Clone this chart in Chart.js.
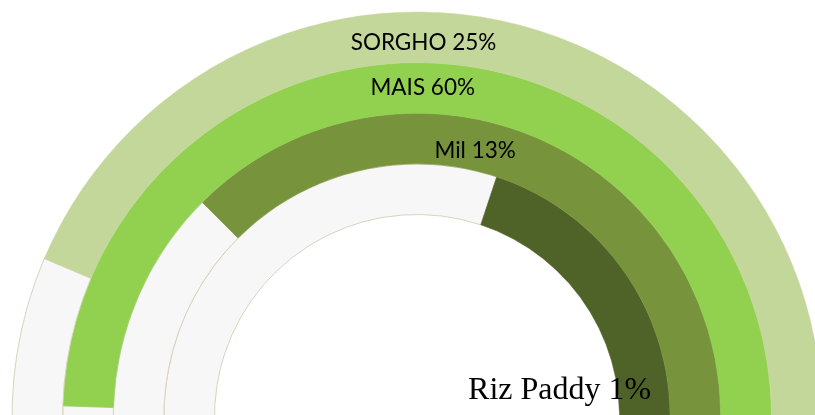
<!DOCTYPE html>
<html>
<head>
<meta charset="utf-8">
<script src="https://cdn.jsdelivr.net/npm/chart.js@4"></script>
<style>
  html, body { margin: 0; padding: 0; background: #fff; overflow: hidden; width: 815px; height: 415px; }
  #wrap { position: absolute; left: 0; top: 0; width: 834px; height: 834px; }
</style>
</head>
<body>
<div id="wrap"><canvas id="chart" width="834" height="834"></canvas></div>
<script>
// rings, outer to inner
const crops = ['SORGHO', 'MAIS', 'Mil', 'Riz Paddy'];
const percents = [25, 60, 13, 1];
// coloured arc as share of the full circle
const arcShare = [68.6, 74.5, 62.5, 44.9];
const ringColors = ['#c4d79b', '#92d050', '#77933c', '#4f6228'];

// label placement: [degrees from top, clockwise; distance from centre]
const labelSpots = [[1, 374], [1, 329], [12.3, 273], [79.7, 145]];
const labelFonts = ['22.5px Lato', '22.5px Lato', '22.5px Lato', '32px "Liberation Serif"'];

const ringLabels = {
  id: 'ringLabels',
  afterDraw(chart) {
    const ctx = chart.ctx;
    ctx.save();
    ctx.fillStyle = '#000';
    ctx.textAlign = 'center';
    ctx.textBaseline = 'middle';
    crops.forEach((name, i) => {
      const arc = chart.getDatasetMeta(i).data[1];
      const a = labelSpots[i][0] * Math.PI / 180;
      const r = labelSpots[i][1];
      ctx.font = labelFonts[i];
      ctx.fillText(`${name} ${percents[i]}%`, arc.x + r * Math.sin(a), arc.y - r * Math.cos(a));
    });
    ctx.restore();
  }
};

new Chart(document.getElementById('chart').getContext('2d'), {
  type: 'doughnut',
  data: {
    labels: ['Reste', 'Part'],
    datasets: crops.map((name, i) => ({
      label: name,
      data: [100 - arcShare[i], arcShare[i]],
      backgroundColor: ['#f7f7f7', ringColors[i]],
      borderColor: ['#d8d3bc', ringColors[i]],
      borderWidth: [1, 0.5]
    }))
  },
  options: {
    responsive: false,
    animation: false,
    rotation: 180,
    radius: 405,
    cutout: '50%',
    plugins: {
      legend: { display: false },
      tooltip: { enabled: false }
    }
  },
  plugins: [ringLabels]
});
</script>
</body>
</html>
